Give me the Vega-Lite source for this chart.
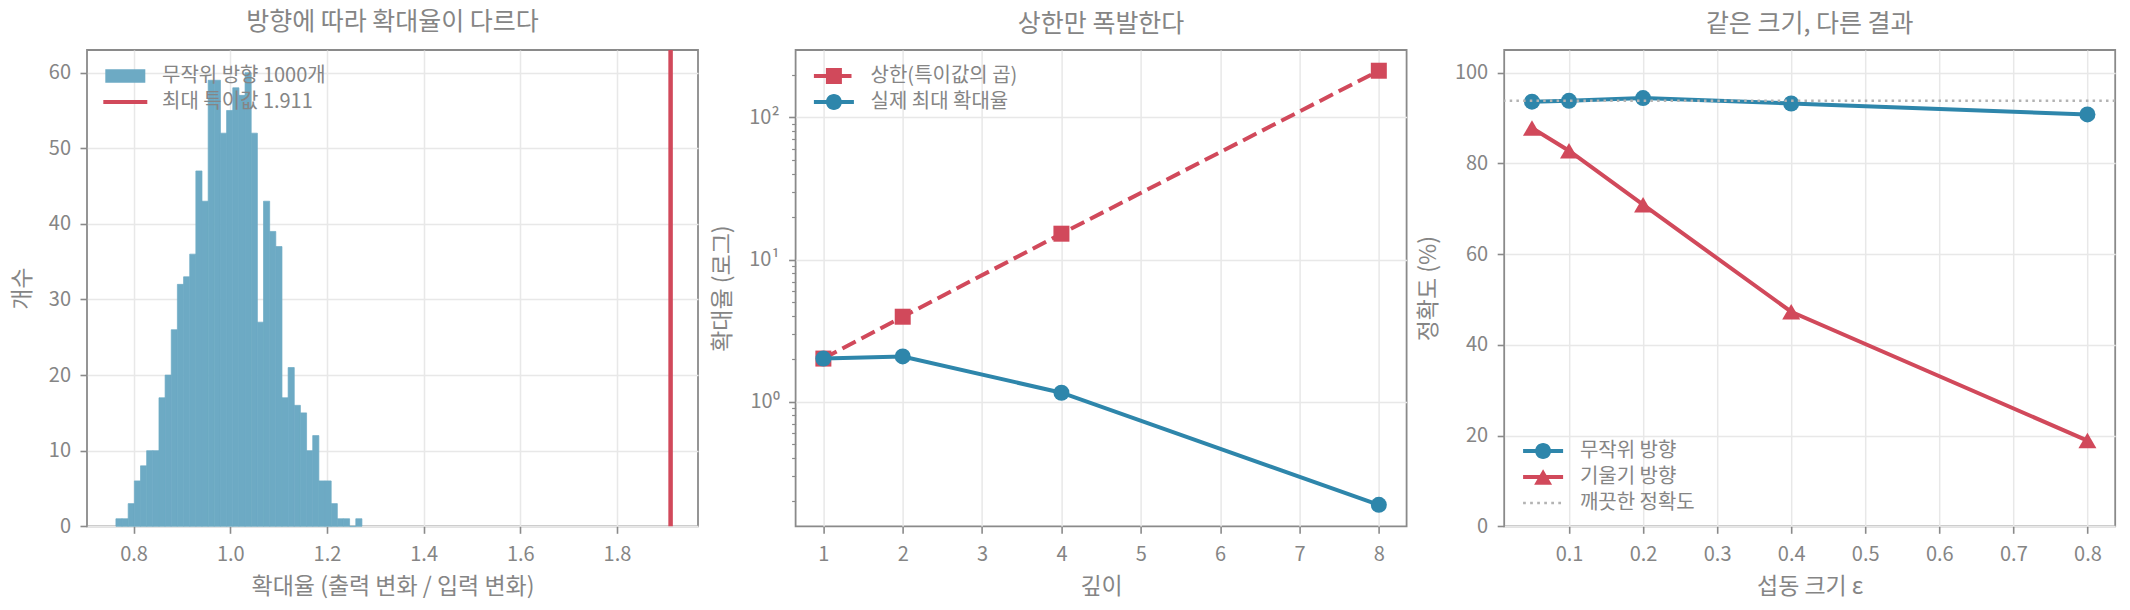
{
  "$schema": "https://vega.github.io/schema/vega-lite/v6.json",
  "background": "white",
  "padding": {"left": 10, "top": 9, "right": 5, "bottom": 5},
  "bounds": "flush",
  "spacing": 97.6,
  "resolve": {
    "scale": {"x": "independent", "y": "independent", "color": "independent"},
    "legend": {"color": "independent"}
  },
  "config": {
    "font": "Noto Sans CJK KR",
    "view": {"stroke": "#8a8a8a", "strokeWidth": 1.8},
    "axis": {
      "domain": false,
      "labelFont": "Noto Sans CJK KR",
      "labelFontSize": 20,
      "labelColor": "#858585",
      "titleFont": "Noto Sans CJK KR",
      "titleFontSize": 23,
      "titleColor": "#858585",
      "titleFontWeight": "normal",
      "tickColor": "#8a8a8a",
      "tickWidth": 1.6,
      "tickSize": 7,
      "gridColor": "#e8e8e8",
      "gridWidth": 1.5,
      "labelFlush": false,
      "labelOverlap": false
    },
    "axisX": {"labelPadding": 11, "titleBaseline": "alphabetic", "titleY": 67},
    "axisY": {"labelPadding": 9.5},
    "title": {
      "font": "Noto Sans CJK KR",
      "fontSize": 25,
      "fontWeight": "normal",
      "color": "#858585",
      "anchor": "middle",
      "frame": "group",
      "baseline": "alphabetic",
      "offset": 12.7
    },
    "legend": {
      "labelFont": "Noto Sans CJK KR",
      "labelFontSize": 20,
      "labelColor": "#858585",
      "padding": 0,
      "rowPadding": 0,
      "symbolSize": 1024,
      "symbolStrokeWidth": 0,
      "labelLimit": 400
    }
  },
  "hconcat": [
    {
      "width": 611,
      "height": 476.3,
      "title": {"text": "방향에 따라 확대율이 다르다"},
      "layer": [
        {
          "data": {"values": [
            {"x0": 0.7634, "x1": 0.7761, "n": 1},
            {"x0": 0.7761, "x1": 0.7888, "n": 1},
            {"x0": 0.7888, "x1": 0.8016, "n": 3},
            {"x0": 0.8016, "x1": 0.8143, "n": 6},
            {"x0": 0.8143, "x1": 0.8270, "n": 8},
            {"x0": 0.8270, "x1": 0.8397, "n": 10},
            {"x0": 0.8397, "x1": 0.8525, "n": 10},
            {"x0": 0.8525, "x1": 0.8652, "n": 17},
            {"x0": 0.8652, "x1": 0.8779, "n": 20},
            {"x0": 0.8779, "x1": 0.8906, "n": 26},
            {"x0": 0.8906, "x1": 0.9034, "n": 32},
            {"x0": 0.9034, "x1": 0.9161, "n": 33},
            {"x0": 0.9161, "x1": 0.9288, "n": 36},
            {"x0": 0.9288, "x1": 0.9415, "n": 47},
            {"x0": 0.9415, "x1": 0.9543, "n": 43},
            {"x0": 0.9543, "x1": 0.9670, "n": 59},
            {"x0": 0.9670, "x1": 0.9797, "n": 59},
            {"x0": 0.9797, "x1": 0.9924, "n": 52},
            {"x0": 0.9924, "x1": 1.0052, "n": 55},
            {"x0": 1.0052, "x1": 1.0179, "n": 58},
            {"x0": 1.0179, "x1": 1.0306, "n": 57},
            {"x0": 1.0306, "x1": 1.0433, "n": 60},
            {"x0": 1.0433, "x1": 1.0561, "n": 52},
            {"x0": 1.0561, "x1": 1.0688, "n": 27},
            {"x0": 1.0688, "x1": 1.0815, "n": 43},
            {"x0": 1.0815, "x1": 1.0942, "n": 39},
            {"x0": 1.0942, "x1": 1.1070, "n": 37},
            {"x0": 1.1070, "x1": 1.1197, "n": 17},
            {"x0": 1.1197, "x1": 1.1324, "n": 21},
            {"x0": 1.1324, "x1": 1.1451, "n": 16},
            {"x0": 1.1451, "x1": 1.1579, "n": 15},
            {"x0": 1.1579, "x1": 1.1706, "n": 10},
            {"x0": 1.1706, "x1": 1.1833, "n": 12},
            {"x0": 1.1833, "x1": 1.1960, "n": 6},
            {"x0": 1.1960, "x1": 1.2088, "n": 6},
            {"x0": 1.2088, "x1": 1.2215, "n": 3},
            {"x0": 1.2215, "x1": 1.2342, "n": 1},
            {"x0": 1.2342, "x1": 1.2469, "n": 1},
            {"x0": 1.2469, "x1": 1.2597, "n": 0},
            {"x0": 1.2597, "x1": 1.2724, "n": 1}
          ]},
          "mark": {"type": "rect", "strokeWidth": 0.7},
          "encoding": {
            "x": {
              "field": "x0", "type": "quantitative",
              "scale": {"domain": [0.7036, 1.9677], "nice": false, "zero": false},
              "axis": {"values": [0.8, 1.0, 1.2, 1.4, 1.6, 1.8], "format": ".1f", "title": "확대율 (출력 변화 / 입력 변화)"}
            },
            "x2": {"field": "x1"},
            "y": {
              "field": "n", "type": "quantitative",
              "scale": {"domain": [0, 63], "nice": false},
              "axis": {"values": [0, 10, 20, 30, 40, 50, 60], "title": "개수", "titleX": -65, "titleBaseline": "middle", "titleAngle": -90}
            },
            "y2": {"datum": 0},
            "stroke": {"value": "#6DAAC4"},
            "color": {
              "datum": "무작위 방향 1000개",
              "scale": {"domain": ["무작위 방향 1000개", "최대 특이값 1.911"], "range": ["#6DAAC4", "#D1495B"]},
              "legend": {
                "title": null,
                "orient": "top-left",
                "offset": 10,
                "symbolOffset": 12.3,
                "labelOffset": 20.7,
                "encode": {"symbols": {"update": {
                  "shape": {"signal": "datum.index === 0 ? 'M-1.25,-0.42H1.25V0.42H-1.25Z' : 'M-1.375,-0.125H1.375V0.125H-1.375Z'"},
                  "fill": {"signal": "datum.index === 0 ? '#6DAAC4' : '#D1495B'"},
                  "stroke": {"value": "transparent"},
                  "strokeWidth": {"value": 0},
                  "opacity": {"value": 1},
                  "fillOpacity": {"value": 1}
                }}}
              }
            }
          }
        },
        {
          "data": {"values": [{"sv": 1.911}]},
          "mark": {"type": "rule", "strokeWidth": 4.5},
          "encoding": {
            "x": {"field": "sv", "type": "quantitative"},
            "color": {
              "datum": "최대 특이값 1.911",
              "legend": {
                "title": null,
                "orient": "top-left",
                "offset": 10,
                "symbolOffset": 12.3,
                "labelOffset": 20.7,
                "encode": {"symbols": {"update": {
                  "shape": {"signal": "datum.index === 0 ? 'M-1.25,-0.42H1.25V0.42H-1.25Z' : 'M-1.375,-0.125H1.375V0.125H-1.375Z'"},
                  "fill": {"signal": "datum.index === 0 ? '#6DAAC4' : '#D1495B'"},
                  "stroke": {"value": "transparent"},
                  "strokeWidth": {"value": 0},
                  "opacity": {"value": 1},
                  "fillOpacity": {"value": 1}
                }}}
              }
            }
          }
        }
      ]
    },
    {
      "width": 611,
      "height": 476.3,
      "title": {"text": "상한만 폭발한다"},
      "data": {"values": [
        {"depth": 1, "bound": 2.01, "actual": 2.01},
        {"depth": 2, "bound": 3.96, "actual": 2.08},
        {"depth": 4, "bound": 15.2, "actual": 1.156},
        {"depth": 8, "bound": 213, "actual": 0.188}
      ]},
      "layer": [
        {
          "mark": {"type": "line", "strokeWidth": 4, "strokeDash": [15, 6.5], "point": {"filled": true, "shape": "square", "size": 256}},
          "encoding": {
            "x": {
              "field": "depth", "type": "quantitative",
              "scale": {"domain": [0.65, 8.35], "nice": false, "zero": false},
              "axis": {"values": [1, 2, 3, 4, 5, 6, 7, 8], "format": "d", "title": "깊이"}
            },
            "y": {
              "field": "bound", "type": "quantitative",
              "scale": {"type": "log", "domain": [0.1328, 298], "nice": false},
              "axis": {
                "title": "확대율 (로그)",
                "titleX": -73.5,
                "titleBaseline": "middle",
                "titleAngle": -90,
                "values": [0.2, 0.3, 0.4, 0.5, 0.6, 0.7, 0.8, 0.9, 1, 2, 3, 4, 5, 6, 7, 8, 9, 10, 20, 30, 40, 50, 60, 70, 80, 90, 100, 200],
                "labelExpr": "datum.value == 1 ? '10⁰' : datum.value == 10 ? '10¹' : datum.value == 100 ? '10²' : ''",
                "tickSize": {"condition": {"test": "datum.value == 1 || datum.value == 10 || datum.value == 100", "value": 7}, "value": 4},
                "tickWidth": {"condition": {"test": "datum.value == 1 || datum.value == 10 || datum.value == 100", "value": 1.6}, "value": 1.2},
                "gridOpacity": {"condition": {"test": "datum.value == 1 || datum.value == 10 || datum.value == 100", "value": 1}, "value": 0}
              }
            },
            "color": {
              "datum": "상한(특이값의 곱)",
              "scale": {"domain": ["상한(특이값의 곱)", "실제 최대 확대율"], "range": ["#D1495B", "#2E86AB"]},
              "legend": {
                "title": null,
                "orient": "top-left",
                "offset": 10,
                "symbolOffset": 12.3,
                "labelOffset": 20.7,
                "encode": {"symbols": {"update": {
                  "shape": {"signal": "datum.index === 0 ? 'M-1.25,-0.125H-0.4V0.125H-1.25Z M-0.5,-0.5H0.5V0.5H-0.5Z M0.4,-0.125H1.1V0.125H0.4Z' : 'M-1.25,-0.125H1.25V0.125H-1.25Z M0.5,0 A0.5,0.5 0 1,1 -0.5,0 A0.5,0.5 0 1,1 0.5,0 Z'"},
                  "fill": {"signal": "datum.index === 0 ? '#D1495B' : '#2E86AB'"},
                  "stroke": {"value": "transparent"},
                  "strokeWidth": {"value": 0},
                  "strokeDash": {"value": []},
                  "opacity": {"value": 1},
                  "fillOpacity": {"value": 1}
                }}}
              }
            }
          }
        },
        {
          "mark": {"type": "line", "strokeWidth": 4, "point": {"filled": true, "shape": "circle", "size": 256}},
          "encoding": {
            "x": {"field": "depth", "type": "quantitative"},
            "y": {"field": "actual", "type": "quantitative", "title": "확대율 (로그)"},
            "color": {"datum": "실제 최대 확대율"}
          }
        }
      ]
    },
    {
      "width": 611,
      "height": 476.3,
      "title": {"text": "같은 크기, 다른 결과"},
      "layer": [
        {
          "data": {"values": [
            {"eps": 0.05, "rand": 93.6, "grad": 87.8},
            {"eps": 0.1, "rand": 93.8, "grad": 82.8},
            {"eps": 0.2, "rand": 94.4, "grad": 70.9},
            {"eps": 0.4, "rand": 93.2, "grad": 47.3},
            {"eps": 0.8, "rand": 90.8, "grad": 18.9}
          ]},
          "layer": [
            {
              "mark": {"type": "line", "strokeWidth": 4, "point": {"filled": true, "shape": "circle", "size": 256}},
              "encoding": {
                "x": {
                  "field": "eps", "type": "quantitative",
                  "scale": {"domain": [0.0125, 0.8375], "nice": false, "zero": false},
                  "axis": {"values": [0.1, 0.2, 0.3, 0.4, 0.5, 0.6, 0.7, 0.8], "format": ".1f", "title": "섭동 크기 ε"}
                },
                "y": {
                  "field": "rand", "type": "quantitative",
                  "scale": {"domain": [0, 105], "nice": false},
                  "axis": {"values": [0, 20, 40, 60, 80, 100], "title": "정확도 (%)", "titleX": -76, "titleBaseline": "middle", "titleAngle": -90}
                },
                "color": {
                  "datum": "무작위 방향",
                  "scale": {"domain": ["무작위 방향", "기울기 방향", "깨끗한 정확도"], "range": ["#2E86AB", "#D1495B", "#b3b3b3"]},
                  "legend": {
                    "title": null,
                    "orient": "bottom-left",
                    "offset": 13.6,
                    "symbolOffset": 8.9,
                    "labelOffset": 20.8,
                    "encode": {"symbols": {"update": {
                      "shape": {"signal": "datum.index === 0 ? 'M-1.25,-0.125H1.25V0.125H-1.25Z M0.5,0 A0.5,0.5 0 1,1 -0.5,0 A0.5,0.5 0 1,1 0.5,0 Z' : datum.index === 1 ? 'M-1.25,-0.125H1.25V0.125H-1.25Z M0,-0.49 L0.56,0.49 L-0.56,0.49 Z' : 'M-1.25,-0.085H-1.08V0.085H-1.25Z M-0.81,-0.085H-0.64V0.085H-0.81Z M-0.37,-0.085H-0.2V0.085H-0.37Z M0.07,-0.085H0.24V0.085H0.07Z M0.51,-0.085H0.68V0.085H0.51Z M0.95,-0.085H1.12V0.085H0.95Z'"},
                      "fill": {"signal": "datum.index === 0 ? '#2E86AB' : datum.index === 1 ? '#D1495B' : '#b3b3b3'"},
                      "stroke": {"value": "transparent"},
                      "strokeWidth": {"value": 0},
                      "strokeDash": {"value": []},
                      "opacity": {"value": 1},
                      "fillOpacity": {"value": 1}
                    }}}
                  }
                }
              }
            },
            {
              "mark": {"type": "line", "strokeWidth": 4, "point": {"filled": true, "shape": "triangle-up", "size": 324}},
              "encoding": {
                "x": {"field": "eps", "type": "quantitative"},
                "y": {"field": "grad", "type": "quantitative", "title": "정확도 (%)"},
                "color": {"datum": "기울기 방향"}
              }
            }
          ]
        },
        {
          "data": {"values": [{"clean": 93.8}]},
          "mark": {"type": "rule", "strokeWidth": 2.5, "strokeDash": [2.5, 4.2]},
          "encoding": {
            "y": {"field": "clean", "type": "quantitative", "title": "정확도 (%)"},
            "color": {"datum": "깨끗한 정확도"}
          }
        }
      ]
    }
  ]
}
